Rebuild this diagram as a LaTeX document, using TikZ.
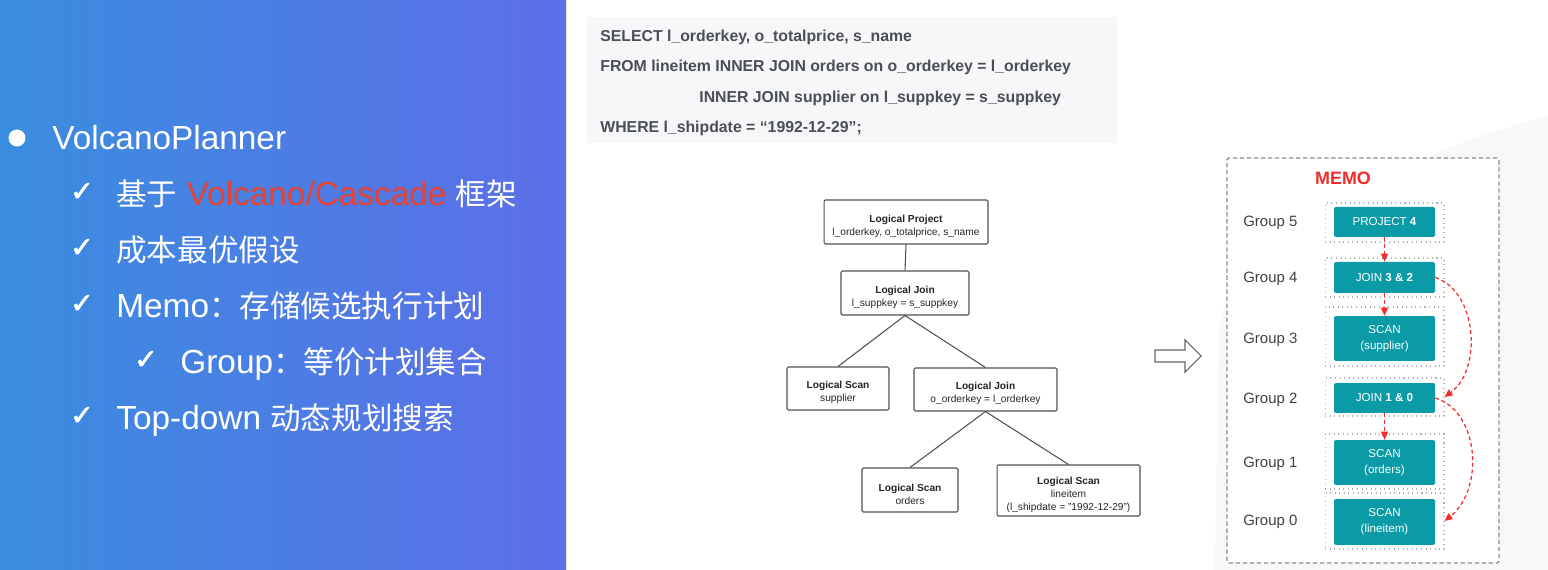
\documentclass[tikz,border=0pt]{standalone}
\usepackage{fontspec}
\setmainfont{Liberation Sans}
\newfontfamily\cjkfont{Noto Sans CJK SC}
\newfontfamily\checkfont[FakeBold=2.2]{DejaVu Sans}
\usetikzlibrary{arrows.meta}

\definecolor{panelL}{HTML}{3A8DDF}
\definecolor{panelR}{HTML}{5D6EE8}
\definecolor{accent}{HTML}{E8432E}
\definecolor{sqlbg}{HTML}{F6F7F8}
\definecolor{sqltext}{HTML}{4B4E53}
\definecolor{treeline}{HTML}{505050}
\definecolor{memoteal}{HTML}{0B9BA6}
\definecolor{memored}{HTML}{F22C2C}
\definecolor{softgray}{HTML}{F7F8FA}
\definecolor{dashgray}{HTML}{8C8C8C}
\definecolor{dotgray}{HTML}{B0B0B0}
\definecolor{labelgray}{HTML}{404040}

\newcommand{\latinbig}{\fontsize{19}{22}\selectfont}
\newcommand{\cjkbig}{\cjkfont\fontsize{17.4}{20}\selectfont}
% heading line of a plan operator box, with a strut that lowers the text block a little
\newcommand{\planhead}[1]{\rule{0pt}{8.8pt}\textbf{#1}}

\tikzset{
  panelline/.style={anchor=base west, text=white, inner sep=0pt, font=\latinbig},
  ticksym/.style={text=white, inner sep=0pt, font=\checkfont\fontsize{16}{18}\selectfont},
  sqlline/.style={anchor=base west, inner sep=0pt, text=sqltext, font=\bfseries\fontsize{9}{10}\selectfont},
  planbox/.style={draw=treeline, line width=0.6pt, rounded corners=0.8pt, fill=white, align=center,
                  inner sep=0pt, text=black!85, font=\fontsize{5.8}{7.4}\selectfont},
  planedge/.style={draw=treeline, line width=0.6pt},
  grouplabel/.style={anchor=west, inner sep=0pt, text=labelgray, font=\fontsize{8.5}{10}\selectfont},
  groupframe/.style={draw=dotgray, dotted, line width=0.6pt, minimum width=2.38cm, inner sep=0pt},
  exprbox/.style={fill=memoteal, rounded corners=1.2pt, minimum width=2.02cm, align=center,
                  text=white, inner sep=0pt, font=\fontsize{6.6}{9}\selectfont},
  memoarrow/.style={draw=memored, dash pattern=on 2.2pt off 1.6pt, line width=0.7pt,
                    -{Triangle[length=4.5pt,width=4pt]}},
}

\begin{document}
\begin{tikzpicture}[x=0.02cm, y=-0.02cm]
\useasboundingbox (0,0) rectangle (1548,570);
\fill[white] (0,0) rectangle (1548,570);

% soft backdrop at the lower right
\fill[softgray] (1548,116) .. controls (1420,150) and (1230,230) .. (1219,330)
  -- (1215,570) -- (1548,570) -- cycle;

% ---------- left panel ----------
\shade[left color=panelL, right color=panelR] (0,0) rectangle (566,570);
\node[circle, fill=white, minimum size=0.34cm, inner sep=0pt] (bullet) at (17,138) {};
\node[panelline] (title) at (52,150) {VolcanoPlanner};

\node[ticksym] (c1) at (82,192) {✓};
\node[panelline] (l1) at (116,206) {{\cjkbig 基于} {\color{accent}Volcano/Cascade} {\cjkbig 框架}};
\node[ticksym] (c2) at (82,248) {✓};
\node[panelline] (l2) at (116,262) {{\cjkbig 成本最优假设}};
\node[ticksym] (c3) at (82,304) {✓};
\node[panelline] (l3) at (116,318) {Memo{\cjkbig ：存储候选执行计划}};
\node[ticksym] (c4) at (146,360) {✓};
\node[panelline] (l4) at (180,374) {Group{\cjkbig ：等价计划集合}};
\node[ticksym] (c5) at (82,416) {✓};
\node[panelline] (l5) at (116,430) {Top-down {\cjkbig 动态规划搜索}};

% ---------- SQL text ----------
\node[fill=sqlbg, inner sep=0pt, minimum width=10.6cm, minimum height=2.52cm] (sqlbox) at (852,80) {};
\node[sqlline] (q1) at (600,42) {SELECT l\_orderkey, o\_totalprice, s\_name};
\node[sqlline] (q2) at (600,72) {FROM lineitem INNER JOIN orders on o\_orderkey = l\_orderkey};
\node[sqlline] (q3) at (699,103) {INNER JOIN supplier on l\_suppkey = s\_suppkey};
\node[sqlline] (q4) at (600,133) {WHERE l\_shipdate = “1992-12-29”;};

% ---------- logical plan tree ----------
\node[planbox, minimum width=3.28cm, minimum height=0.88cm] (proj) at (906,222)
  {\planhead{Logical Project}\\l\_orderkey, o\_totalprice, s\_name};
\node[planbox, minimum width=2.56cm, minimum height=0.88cm] (join1) at (905,293)
  {\planhead{Logical Join}\\l\_suppkey = s\_suppkey};
\node[planbox, minimum width=2.04cm, minimum height=0.86cm] (scans) at (838,388.5)
  {\planhead{Logical Scan}\\supplier};
\node[planbox, minimum width=2.86cm, minimum height=0.86cm] (join2) at (985.5,389.5)
  {\planhead{Logical Join}\\o\_orderkey = l\_orderkey};
\node[planbox, minimum width=1.92cm, minimum height=0.88cm] (scano) at (910,490)
  {\planhead{Logical Scan}\\orders};
\node[planbox, minimum width=2.86cm, minimum height=1.02cm] (scanl) at (1068.5,490.5)
  {\planhead{Logical Scan}\\lineitem\\(l\_shipdate = "1992-12-29")};

\draw[planedge] (proj.south) -- (join1.north);
\draw[planedge] (join1.south) -- (scans.north);
\draw[planedge] (join1.south) -- (join2.north);
\draw[planedge] (join2.south) -- (scano.north);
\draw[planedge] (join2.south) -- (scanl.north);

% hollow arrow between plan and memo
\draw[draw=black!60, fill=white, line width=0.6pt]
  (1155,350) -- (1185,350) -- (1185,340) -- (1201,356) -- (1185,372) -- (1185,362) -- (1155,362) -- cycle;

% ---------- memo ----------
\node[draw=dashgray, dash pattern=on 2.5pt off 1.5pt, line width=0.7pt, fill=white, rounded corners=1pt,
      minimum width=5.44cm, minimum height=8.1cm, inner sep=0pt] (memo) at (1363,360.5) {};
\node[text=memored, font=\bfseries\fontsize{10.2}{12}\selectfont] (memotitle) at (1343,178) {MEMO};

\node[grouplabel] (n5) at (1243,223) {Group 5};
\node[grouplabel] (n4) at (1243,279) {Group 4};
\node[grouplabel] (n3) at (1243,340) {Group 3};
\node[grouplabel] (n2) at (1243,400) {Group 2};
\node[grouplabel] (n1) at (1243,464) {Group 1};
\node[grouplabel] (n0) at (1243,522) {Group 0};

\node[groupframe, minimum height=0.78cm] (g5) at (1384.5,222.5) {};
\node[groupframe, minimum height=0.78cm] (g4) at (1384.5,277.5) {};
\node[groupframe, minimum height=1.18cm] (g3) at (1384.5,336.5) {};
\node[groupframe, minimum height=0.76cm] (g2) at (1384.5,397) {};
\node[groupframe, minimum height=1.10cm] (g1) at (1384.5,461.5) {};
\node[groupframe, minimum height=1.12cm] (g0) at (1384.5,521) {};

\node[exprbox, minimum height=0.60cm] (p4) at (1384.5,222) {PROJECT \textbf{4}};
\node[exprbox, minimum height=0.62cm] (j32) at (1384.5,277.5) {JOIN \textbf{3 \& 2}};
\node[exprbox, minimum height=0.90cm] (ssup) at (1384.5,338.5) {SCAN\\(supplier)};
\node[exprbox, minimum height=0.60cm] (j10) at (1384.5,398) {JOIN \textbf{1 \& 0}};
\node[exprbox, minimum height=0.90cm] (sord) at (1384.5,462.5) {SCAN\\(orders)};
\node[exprbox, minimum height=0.92cm] (slin) at (1384.5,522) {SCAN\\(lineitem)};

\draw[memoarrow] (p4.south) -- (j32.north);
\draw[memoarrow] (j32.south) -- (ssup.north);
\draw[memoarrow] (j10.south) -- (sord.north);
\draw[memoarrow] (j32.east) .. controls (1478,292) and (1482,370) .. (g2.east);
\draw[memoarrow] (j10.east) .. controls (1480,412) and (1484,490) .. (g0.east);

\end{tikzpicture}
\end{document}
